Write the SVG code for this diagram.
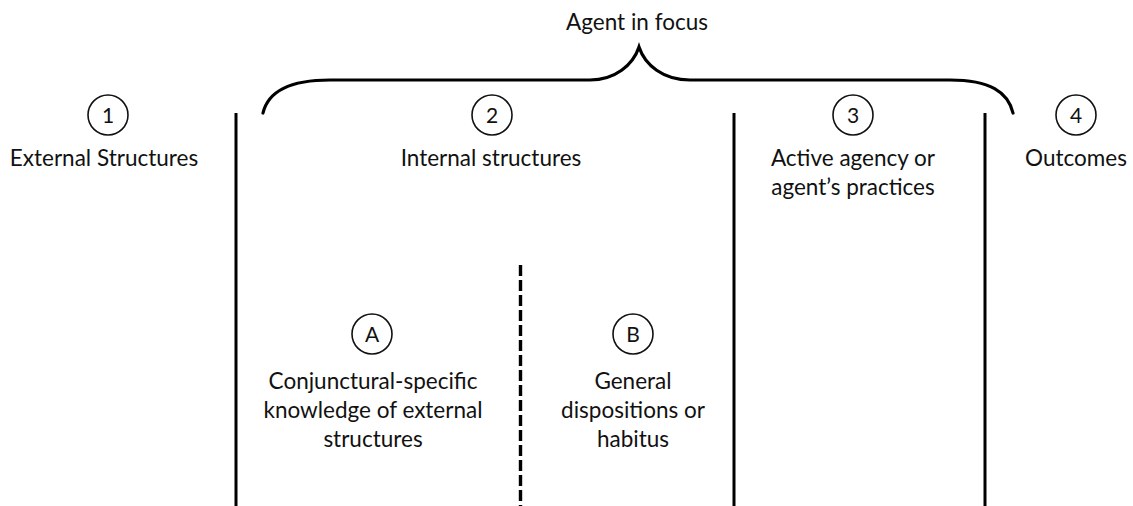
<svg xmlns="http://www.w3.org/2000/svg" width="1133" height="506" viewBox="0 0 1133 506">
  <style>
    .lbl { font-family: Lato, "Open Sans", "Liberation Sans", sans-serif; font-size: 22.5px; fill: #111; text-anchor: middle; }
    .num { font-family: Lato, "Open Sans", "Liberation Sans", sans-serif; font-size: 21px; fill: #111; text-anchor: middle; }
    .ring { fill: #fff; stroke: #111; stroke-width: 1.6; }
    .wall { stroke: #000; stroke-width: 3; fill: none; }
    .dash { stroke: #000; stroke-width: 3.4; stroke-dasharray: 11 4; fill: none; }
    .brace { stroke: #000; stroke-width: 3.2; fill: none; stroke-linecap: round; }
  </style>
  <rect width="1133" height="506" fill="#fff"/>

  <!-- dividers and the brace over the agent columns -->
  <g id="connectors">
    <line class="wall" x1="236" y1="113" x2="236" y2="506"/>
    <line class="wall" x1="734" y1="113" x2="734" y2="506"/>
    <line class="wall" x1="985" y1="113" x2="985" y2="506"/>
    <line class="dash" x1="520.5" y1="265" x2="520.5" y2="506"/>
    <path class="brace" d="M263,113 C268,92 290,80 330,80 L590,80 C615,80 633,65 639,47 C645,65 663,80 690,80 L950,80 C990,80 1008,92 1013,113"/>
  </g>

  <g id="agent-focus">
    <text class="lbl" x="637" y="30">Agent in focus</text>
  </g>

  <g id="external">
    <circle class="ring" cx="108" cy="115" r="20"/>
    <text class="num" x="108" y="122.5">1</text>
    <text class="lbl" x="104" y="166">External Structures</text>
  </g>

  <g id="internal">
    <circle class="ring" cx="492" cy="115" r="20"/>
    <text class="num" x="492" y="122.5">2</text>
    <text class="lbl" x="491" y="166">Internal structures</text>
  </g>

  <g id="agency">
    <circle class="ring" cx="853" cy="115" r="20"/>
    <text class="num" x="853" y="122.5">3</text>
    <text class="lbl" x="853" y="166">Active agency or</text>
    <text class="lbl" x="853" y="195">agent’s practices</text>
  </g>

  <g id="outcomes">
    <circle class="ring" cx="1076" cy="115" r="20"/>
    <text class="num" x="1076" y="122.5">4</text>
    <text class="lbl" x="1076" y="166">Outcomes</text>
  </g>

  <g id="knowledge">
    <circle class="ring" cx="372" cy="334" r="20"/>
    <text class="num" x="372" y="341.5">A</text>
    <text class="lbl" x="373" y="389">Conjunctural-specific</text>
    <text class="lbl" x="373" y="418">knowledge of external</text>
    <text class="lbl" x="373" y="447">structures</text>
  </g>

  <g id="habitus">
    <circle class="ring" cx="633" cy="334" r="20"/>
    <text class="num" x="633" y="341.5">B</text>
    <text class="lbl" x="633" y="389">General</text>
    <text class="lbl" x="633" y="418">dispositions or</text>
    <text class="lbl" x="633" y="447">habitus</text>
  </g>
</svg>
